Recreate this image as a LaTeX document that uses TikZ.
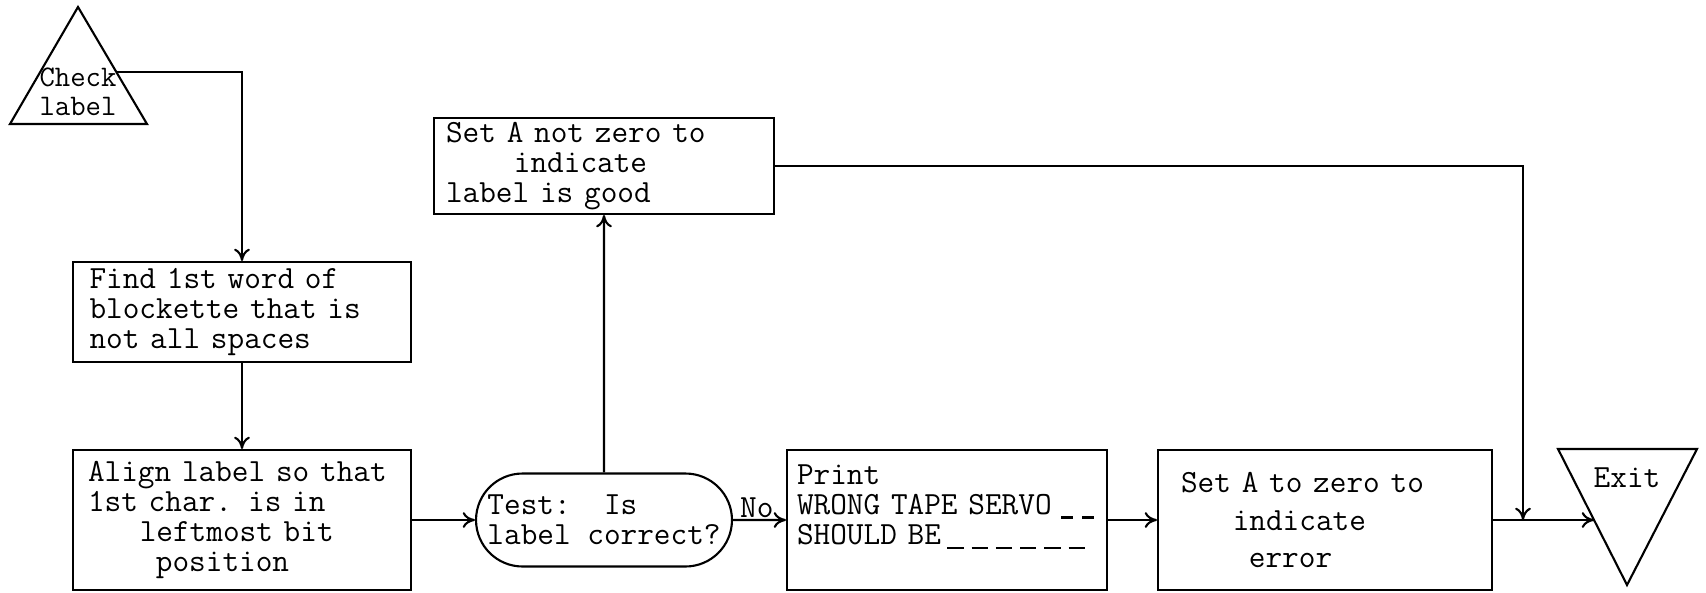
\documentclass[tikz,border=0pt]{standalone}
\usetikzlibrary{shapes.misc,arrows.meta}
\tikzset{
  box/.style={draw, line width=1.2pt, align=left, inner xsep=0pt, inner ysep=2pt},
  flow/.style={line width=1.2pt, ->},
}
\newcommand\blank[2]{\rule[-0.12em]{#1}{0.07em}\hspace{#2}}

\begin{document}
\begin{tikzpicture}[x=0.02cm, y=-0.02cm, >={To[length=7pt,width=9pt]},
  font=\ttfamily\fontsize{18.4}{17.1}\selectfont]
  \useasboundingbox (0,0) rectangle (1706,592);
  % terminals
  \draw[line width=1.2pt] (10,124) -- (78,7) -- (147,124) -- cycle;
  \draw[line width=1.2pt] (1558,449) -- (1697,449) -- (1627,585) -- cycle;
  \node[align=center, inner sep=0pt, font=\ttfamily\fontsize{17}{16.5}\selectfont] (start) at (78,92) {Check\\label};
  \node[inner sep=0pt] (exit) at (1627,478) {Exit};
  \coordinate (start-out) at (116,72);
  \coordinate (exit-in) at (1594,520);
  \coordinate (merge) at (1523,520);
  % boxes
  \node[box, minimum width=6.76cm, minimum height=2cm, text width=6.1cm] (find) at (242,312)
    {Find 1st word of\\blockette that is\\not all spaces};
  \node[box, minimum width=6.76cm, minimum height=2.8cm, text width=6.16cm] (align) at (242,520)
    {\mbox{Align label so that}\\1st char. is in\\\hspace*{1.6em}leftmost bit\\\hspace*{2.1em}position};
  \node[box, minimum width=6.8cm, minimum height=1.92cm, text width=6.32cm] (setnz) at (604,166)
    {Set A not zero to\\\hspace*{2.1em}indicate\\label is good};
  \node[draw, line width=1.2pt, rounded rectangle, align=left, minimum width=5.12cm,
    minimum height=1.86cm, inner xsep=0pt] (test) at (604,520) {Test:\ \ Is\\label correct?};
  \node[box, minimum width=6.4cm, minimum height=2.8cm, text width=6.0cm] (print) at (947,520)
    {Print\\\mbox{WRONG TAPE SERVO\hspace{0.3em}\blank{0.35em}{0.3em}\blank{0.35em}{0pt}}\\
     \mbox{SHOULD BE\hspace{0.2em}\blank{0.5em}{0.25em}\blank{0.5em}{0.25em}\blank{0.5em}{0.25em}\blank{0.5em}{0.25em}\blank{0.5em}{0.25em}\blank{0.5em}{0pt}}\\\mbox{}};
  \node[box, minimum width=6.68cm, minimum height=2.8cm, text width=5.76cm] (setz) at (1325,520)
    {Set A to zero to\\[0.14cm]\hspace*{1.6em}indicate\\[0.14cm]\hspace*{2.1em}error};
  % connectors
  \draw[flow] (start-out) -| (find);
  \draw[flow] (find) -- (align);
  \draw[flow] (align) -- (test);
  \draw[flow] (test) -- (setnz);
  \draw[flow] (test) -- node[above, inner sep=1pt, pos=0.45] {No} (print);
  \draw[flow] (print) -- (setz);
  \draw[flow] (setz) -- (exit-in);
  \draw[flow] (setnz) -| (merge);
\end{tikzpicture}
\end{document}
